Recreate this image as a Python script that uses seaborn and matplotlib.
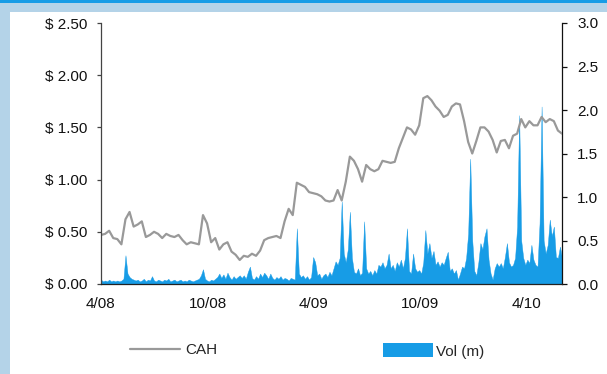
import numpy as np
import pandas as pd
import matplotlib
matplotlib.use("Agg")
import matplotlib.pyplot as plt
import seaborn as sns
from matplotlib.lines import Line2D
from matplotlib.patches import Patch, Rectangle
from matplotlib.ticker import FuncFormatter

# ---- data ----
start_date = "2008-04-01"
# weekly closing price ($)
price = [0.47, 0.48, 0.51, 0.44, 0.43, 0.38, 0.62, 0.69, 0.55, 0.57,
         0.60, 0.45, 0.47, 0.50, 0.48, 0.44, 0.48, 0.46, 0.45, 0.47,
         0.42, 0.38, 0.40, 0.39, 0.38, 0.66, 0.58, 0.40, 0.44, 0.33,
         0.38, 0.40, 0.31, 0.28, 0.23, 0.27, 0.26, 0.29, 0.27, 0.32,
         0.42, 0.44, 0.45, 0.46, 0.44, 0.60, 0.72, 0.66, 0.97, 0.95,
         0.93, 0.88, 0.87, 0.86, 0.84, 0.80, 0.79, 0.80, 0.90, 0.80,
         0.98, 1.22, 1.18, 1.10, 0.98, 1.14, 1.10, 1.08, 1.10, 1.18,
         1.17, 1.16, 1.17, 1.30, 1.40, 1.50, 1.48, 1.43, 1.52, 1.78,
         1.80, 1.76, 1.70, 1.66, 1.60, 1.62, 1.70, 1.73, 1.72, 1.56,
         1.36, 1.25, 1.37, 1.50, 1.50, 1.46, 1.38, 1.26, 1.37, 1.38,
         1.30, 1.42, 1.44, 1.58, 1.50, 1.56, 1.52, 1.52, 1.60, 1.55,
         1.58, 1.56, 1.47, 1.44]
# twice-weekly volume (millions)
volume = [0.05, 0.03, 0.04, 0.03, 0.05, 0.03, 0.04, 0.03, 0.04, 0.03,
          0.04, 0.06, 0.33, 0.12, 0.08, 0.06, 0.05, 0.04, 0.05, 0.03,
          0.04, 0.06, 0.03, 0.05, 0.04, 0.09, 0.04, 0.03, 0.05, 0.04,
          0.03, 0.05, 0.04, 0.06, 0.03, 0.04, 0.05, 0.03, 0.04, 0.05,
          0.03, 0.04, 0.03, 0.05, 0.04, 0.03, 0.04, 0.05, 0.06, 0.10,
          0.17, 0.06, 0.04, 0.03, 0.05, 0.04, 0.06, 0.08, 0.12, 0.07,
          0.11, 0.06, 0.13, 0.08, 0.05, 0.09, 0.06, 0.08, 0.10, 0.07,
          0.10, 0.06, 0.14, 0.20, 0.07, 0.05, 0.09, 0.06, 0.12, 0.08,
          0.13, 0.10, 0.06, 0.12, 0.07, 0.05, 0.08, 0.06, 0.09, 0.05,
          0.07, 0.06, 0.04, 0.07, 0.06, 0.05, 0.64, 0.12, 0.08, 0.10,
          0.06, 0.09, 0.05, 0.08, 0.31, 0.25, 0.10, 0.12, 0.06, 0.10,
          0.12, 0.08, 0.14, 0.10, 0.18, 0.26, 0.22, 0.30, 0.95, 0.35,
          0.25, 0.40, 0.83, 0.30, 0.14, 0.12, 0.18, 0.10, 0.13, 0.72,
          0.18, 0.12, 0.15, 0.10, 0.16, 0.12, 0.22, 0.20, 0.25, 0.18,
          0.22, 0.35, 0.18, 0.22, 0.15, 0.25, 0.20, 0.28, 0.18, 0.30,
          0.64, 0.15, 0.12, 0.35, 0.18, 0.14, 0.16, 0.12, 0.25, 0.62,
          0.35, 0.47, 0.30, 0.38, 0.22, 0.26, 0.20, 0.25, 0.22, 0.30,
          0.37, 0.15, 0.18, 0.12, 0.16, 0.05, 0.12, 0.20, 0.18, 0.30,
          0.58, 1.44, 0.50, 0.15, 0.10, 0.25, 0.47, 0.40, 0.55, 0.64,
          0.28, 0.12, 0.05, 0.18, 0.24, 0.20, 0.24, 0.18, 0.31, 0.47,
          0.25, 0.20, 0.22, 0.30, 0.66, 1.94, 0.50, 0.30, 0.22, 0.28,
          0.24, 0.45, 0.28, 0.22, 0.20, 0.70, 2.04, 0.50, 0.35, 0.45,
          0.74, 0.55, 0.66, 0.31, 0.30, 0.43, 0.30]
tick_dates = ["2008-04-01", "2008-10-01", "2009-04-01", "2009-10-01", "2010-04-01"]
tick_labels = ["4/08", "10/08", "4/09", "10/09", "4/10"]
price_ticks = [0.0, 0.5, 1.0, 1.5, 2.0, 2.5]
vol_ticks = [0.0, 0.5, 1.0, 1.5, 2.0, 2.5, 3.0]
series_names = ["CAH", "Vol (m)"]

price_df = pd.DataFrame({
    "date": pd.date_range(start_date, periods=len(price), freq="7D"),
    "price": price})
vol_df = pd.DataFrame({
    "date": pd.date_range(start_date, periods=len(volume), freq=pd.Timedelta(hours=84)),
    "volume": volume})

sns.set_style("white")
plt.rcParams["font.family"] = ["Liberation Sans", "DejaVu Sans"]
plt.rcParams["font.size"] = 11

LINE_C = "#999999"
VOL_C = "#179CE6"

fig = plt.figure(figsize=(6.07, 3.74), dpi=100)
fig.patch.set_facecolor("white")
# frame decoration
fig.patches.append(Rectangle((0, 0), 10/607, 1, transform=fig.transFigure,
                             facecolor="#B4D3E8", edgecolor="none", zorder=-10))
fig.patches.append(Rectangle((0, 1 - 12/374), 1, 12/374, transform=fig.transFigure,
                             facecolor="#B4D3E8", edgecolor="none", zorder=-10))
fig.patches.append(Rectangle((0, 1 - 3/374), 1, 3/374, transform=fig.transFigure,
                             facecolor="#179CE6", edgecolor="none", zorder=-9))

ax = fig.add_axes([101/607, 1 - 284/374, (562 - 101)/607, (284 - 23)/374])
axv = ax.twinx()
ax.set_zorder(2)
axv.set_zorder(1)
ax.patch.set_visible(False)

# volume area
axv.fill_between(vol_df["date"], 0, vol_df["volume"], color=VOL_C, linewidth=0.3,
                 edgecolor=VOL_C)
axv.set_ylim(0, 3.0)
axv.set_yticks(vol_ticks)
axv.yaxis.set_major_formatter(FuncFormatter(lambda v, p: f"{v:.1f}"))

# price line
sns.lineplot(data=price_df, x="date", y="price", ax=ax, color=LINE_C, linewidth=1.6)
ax.set_ylim(0, 2.5)
ax.set_yticks(price_ticks)
ax.yaxis.set_major_formatter(FuncFormatter(lambda v, p: f"$ {v:.2f}"))
ax.set_xlim(pd.Timestamp("2008-04-01"), pd.Timestamp("2010-06-01"))
ax.set_xticks(pd.to_datetime(tick_dates))
ax.set_xticklabels(tick_labels)
ax.set_xlabel("")
ax.set_ylabel("")
axv.set_ylabel("")

for a in (ax, axv):
    for s in a.spines.values():
        s.set_visible(False)
ax.spines["left"].set_visible(True)
ax.spines["left"].set_color("#444444")
ax.spines["left"].set_linewidth(0.9)
ax.spines["bottom"].set_visible(True)
ax.spines["bottom"].set_color("#222222")
ax.spines["bottom"].set_linewidth(0.9)
axv.spines["right"].set_visible(True)
axv.spines["right"].set_color("#111111")
axv.spines["right"].set_linewidth(0.9)

ax.tick_params(axis="y", which="both", left=True, right=False, length=3,
               width=0.9, color="#444444", pad=7, labelsize=11, labelcolor="#111111")
ax.tick_params(axis="x", length=0, pad=9, labelsize=11, labelcolor="#111111")
axv.tick_params(axis="y", right=True, left=False, length=3.5, width=0.9,
                color="#111111", pad=7.5, labelsize=11, labelcolor="#111111")

# legend
fig.legend(handles=[Line2D([0], [0], color=LINE_C, linewidth=1.6)], labels=[series_names[0]],
           loc="center left", bbox_to_anchor=(130/607, 1 - 350/374), frameon=False,
           borderpad=0, borderaxespad=0, handlelength=3.3, handletextpad=0.3, fontsize=11)
fig.legend(handles=[Patch(facecolor=VOL_C, edgecolor="none")], labels=[series_names[1]],
           loc="center left", bbox_to_anchor=(383/607, 1 - 351/374), frameon=False,
           borderpad=0, borderaxespad=0, handlelength=3.3, handleheight=1.0,
           handletextpad=0.15, fontsize=11)

fig.savefig("out.png", dpi=100, facecolor="white")
